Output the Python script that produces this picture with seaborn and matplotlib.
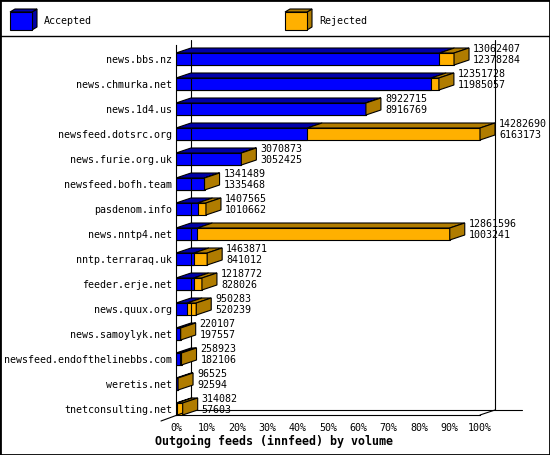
import numpy as np
import pandas as pd
import seaborn as sns
import matplotlib.pyplot as plt
from matplotlib.patches import Polygon, Rectangle
from matplotlib.lines import Line2D

hosts = ["news.bbs.nz", "news.chmurka.net", "news.1d4.us", "newsfeed.dotsrc.org",
         "news.furie.org.uk", "newsfeed.bofh.team", "pasdenom.info", "news.nntp4.net",
         "nntp.terraraq.uk", "feeder.erje.net", "news.quux.org", "news.samoylyk.net",
         "newsfeed.endofthelinebbs.com", "weretis.net", "tnetconsulting.net"]
offered = [13062407, 12351728, 8922715, 14282690, 3070873, 1341489, 1407565, 12861596,
           1463871, 1218772, 950283, 220107, 258923, 96525, 314082]
accepted = [12378284, 11985057, 8916769, 6163173, 3052425, 1335468, 1010662, 1003241,
            841012, 828026, 520239, 197557, 182106, 92594, 57603]
xticks = [0, 10, 20, 30, 40, 50, 60, 70, 80, 90, 100]
title = "Outgoing feeds (innfeed) by volume"

BLUE, BLUE_D = "#0000ff", "#0000a8"
ORANGE, ORANGE_D = "#ffb000", "#b07c00"

W, H = 550, 455
PX = 3.04          # pixels per percent
ROW = 25.0         # pixels per row
Y0 = 59.0          # pixel y of first row centre
DX = 15 / PX       # depth offset in data units
DY = 5 / ROW

sns.set_style("white")
plt.rcParams['font.family'] = ['DejaVu Sans Mono', 'DejaVu Sans']
plt.rcParams['font.size'] = 7.2
plt.rcParams['text.color'] = 'black'

df = pd.DataFrame({"host": hosts, "offered": offered, "accepted": accepted})
top = df["offered"].max()
df["tot_pct"] = df["offered"] / top * 100
df["acc_pct"] = df["accepted"] / top * 100

fig = plt.figure(figsize=(W / 100, H / 100), dpi=100)
left_px, right_px, top_px, bot_px = 176, 530, 36, 415
ax = fig.add_axes([left_px / W, 1 - bot_px / H, (right_px - left_px) / W, (bot_px - top_px) / H])

sns.barplot(data=df, y="host", x="tot_pct", color=ORANGE, saturation=1, width=0.48,
            edgecolor="black", linewidth=0.8, ax=ax)
sns.barplot(data=df, y="host", x="acc_pct", color=BLUE, saturation=1, width=0.48,
            edgecolor="black", linewidth=0.8, ax=ax)

ax.set_xlim(0, (right_px - left_px) / PX)
ax.set_ylim((bot_px - Y0) / ROW, (top_px - Y0) / ROW)

h = 0.24
for i, (a, t) in enumerate(zip(df["acc_pct"], df["tot_pct"])):
    yt = i - h
    for x0, x1, c in [(0, a, BLUE_D), (a, t, ORANGE_D)]:
        ax.add_patch(Polygon([(x0, yt), (x1, yt), (x1 + DX, yt - DY), (x0 + DX, yt - DY)],
                             closed=True, fc=c, ec="black", lw=0.8, zorder=3))
    ax.add_patch(Polygon([(t, yt), (t + DX, yt - DY), (t + DX, i + h - DY), (t, i + h)],
                         closed=True, fc=ORANGE_D, ec="black", lw=0.8, zorder=3))
    ax.text(t + 19 / PX, i - 0.40, f"{offered[i]}", va="center", ha="left", zorder=4)
    ax.text(t + 19 / PX, i + 0.05, f"{accepted[i]}", va="center", ha="left", zorder=4)

# back wall and floor
yb_top = (40 - Y0) / ROW
yb_bot = (410 - Y0) / ROW
lk = dict(color="black", lw=0.8, clip_on=False, zorder=1)
ax.plot([DX, DX], [yb_top, yb_bot], **lk)
ax.plot([100 + DX, 100 + DX], [yb_top, yb_bot], **lk)
ax.plot([DX, (522 - left_px) / PX], [yb_bot, yb_bot], **lk)
ax.plot([-15 / PX, DX], [(421 - Y0) / ROW, yb_bot], **lk)
ax.plot([100, 100 + DX], [(415 - Y0) / ROW, yb_bot], **lk)

for s in ["top", "right"]:
    ax.spines[s].set_visible(False)
ax.spines["left"].set_bounds((bot_px - Y0) / ROW, (45 - Y0) / ROW)
ax.spines["bottom"].set_bounds(0, 100)
for s in ["left", "bottom"]:
    ax.spines[s].set_linewidth(0.8)
    ax.spines[s].set_color("black")
    ax.spines[s].set_zorder(5)

ax.set_xticks(xticks)
ax.set_xticklabels([f"{v}%" for v in xticks])
ax.tick_params(axis="x", direction="out", length=3.6, width=0.8, pad=2, colors="black")
ax.tick_params(axis="y", length=0, pad=3, colors="black")
ax.set_xlabel("")
ax.set_ylabel("")

fig.text(274 / W, 1 - 441 / H, title, ha="center", va="center",
         fontsize=8.4, fontweight="bold")

# legend
def cube(x, y, c, cd):
    fx0, fx1, fy0, fy1 = x, x + 22, y, y + 18
    pts = lambda p: [(px / W, 1 - py / H) for px, py in p]
    fig.add_artist(Polygon(pts([(fx1, fy0), (fx1 + 5, fy0 - 3), (fx1 + 5, fy1 - 3), (fx1, fy1)]),
                           closed=True, fc=cd, ec="black", lw=0.8, transform=fig.transFigure))
    fig.add_artist(Polygon(pts([(fx0, fy0), (fx1, fy0), (fx1 + 5, fy0 - 3), (fx0 + 5, fy0 - 3)]),
                           closed=True, fc=cd, ec="black", lw=0.8, transform=fig.transFigure))
    fig.add_artist(Polygon(pts([(fx0, fy0), (fx1, fy0), (fx1, fy1), (fx0, fy1)]),
                           closed=True, fc=c, ec="black", lw=0.8, transform=fig.transFigure))

cube(10, 12, BLUE, BLUE_D)
fig.text(44 / W, 1 - 21 / H, "Accepted", ha="left", va="center")
cube(285, 12, ORANGE, ORANGE_D)
fig.text(319 / W, 1 - 21 / H, "Rejected", ha="left", va="center")

fig.add_artist(Line2D([0, 1], [1 - 36 / H] * 2, color="black", lw=1.0, transform=fig.transFigure))
fig.add_artist(Rectangle((0, 0), 1, 1, fill=False, ec="black", lw=2.0, transform=fig.transFigure))

fig.savefig("out.png", dpi=100)
